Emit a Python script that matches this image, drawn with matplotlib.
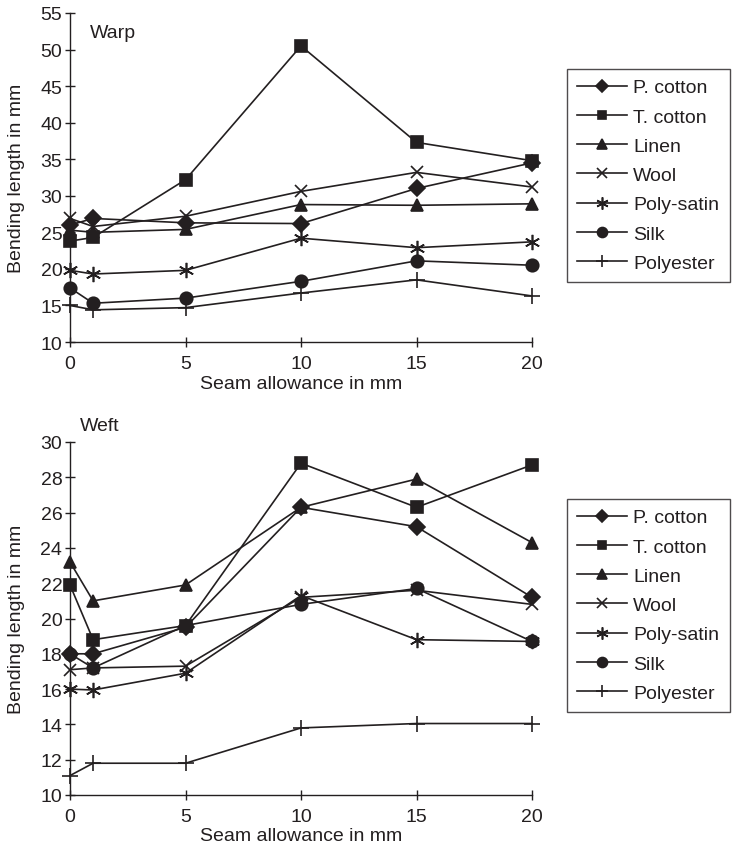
import matplotlib
matplotlib.use("Agg")
import matplotlib.pyplot as plt

plt.rcParams['font.family'] = ['Liberation Sans', 'DejaVu Sans']

# Werte
seam = [0, 1, 5, 10, 15, 20]
labels = ["P. cotton", "T. cotton", "Linen", "Wool", "Poly-satin", "Silk", "Polyester"]

warp_p_cotton = [26.0, 26.9, 26.3, 26.2, 31.0, 34.5]
warp_t_cotton = [23.8, 24.3, 32.2, 50.5, 37.3, 34.8]
warp_linen = [25.3, 25.0, 25.4, 28.8, 28.7, 28.9]
warp_wool = [26.9, 25.8, 27.2, 30.6, 33.2, 31.2]
warp_poly_satin = [19.8, 19.3, 19.8, 24.2, 22.9, 23.7]
warp_silk = [17.4, 15.3, 16.0, 18.3, 21.1, 20.5]
warp_polyester = [15.0, 14.4, 14.7, 16.7, 18.5, 16.3]

weft_p_cotton = [18.0, 18.0, 19.5, 26.3, 25.2, 21.2]
weft_t_cotton = [21.9, 18.8, 19.6, 28.8, 26.3, 28.7]
weft_linen = [23.2, 21.0, 21.9, 26.3, 27.9, 24.3]
weft_wool = [17.1, 17.2, 17.3, 21.2, 21.6, 20.8]
weft_poly_satin = [16.0, 15.95, 16.9, 21.3, 18.8, 18.7]
weft_silk = [18.0, 17.2, 19.6, 20.8, 21.7, 18.7]
weft_polyester = [11.1, 11.8, 11.8, 13.8, 14.05, 14.05]

warp = [warp_p_cotton, warp_t_cotton, warp_linen, warp_wool,
        warp_poly_satin, warp_silk, warp_polyester]
weft = [weft_p_cotton, weft_t_cotton, weft_linen, weft_wool,
        weft_poly_satin, weft_silk, weft_polyester]

ink = '#231f20'
FS = 14
# marker, size, filled
styles = [('D', 8, True), ('s', 8, True), ('^', 9, True), ('x', 9, False),
          ((6, 2, 0), 11, False), ('o', 9, True), ('+', 11, False)]

fig = plt.figure(figsize=(7.32, 8.53), dpi=100)
W, H = 732, 853
ax1 = fig.add_axes([70 / W, 1 - 343 / H, 462 / W, 329 / H])
ax2 = fig.add_axes([70 / W, 1 - 796 / H, 462 / W, 353 / H])


def draw(ax, data, ylim, yticks):
    handles = []
    for vals, (m, ms, filled) in zip(data, styles):
        h, = ax.plot(seam, vals, color=ink, lw=1.2, marker=m, ms=ms,
                     mfc=ink if filled else 'none', mec=ink, mew=1.2,
                     clip_on=False)
        handles.append(h)
    ax.set_xlim(0, 20)
    ax.set_ylim(*ylim)
    ax.set_xticks([0, 5, 10, 15, 20])
    ax.set_yticks(yticks)
    for s in ['top', 'right']:
        ax.spines[s].set_visible(False)
    for s in ['left', 'bottom']:
        ax.spines[s].set_color(ink)
        ax.spines[s].set_linewidth(1.0)
    ax.tick_params(direction='inout', length=7, width=1.0, color=ink,
                   labelsize=FS, labelcolor=ink)
    ax.tick_params(axis='x', pad=6)
    ax.tick_params(axis='y', pad=2)
    ax.set_xlabel("Seam allowance in mm", fontsize=FS, color=ink)
    ax.set_ylabel("Bending length in mm", fontsize=FS, color=ink)
    ax.yaxis.set_label_coords(-0.098, 0.5)
    return handles


h1 = draw(ax1, warp, (10, 55), range(10, 56, 5))
h2 = draw(ax2, weft, (10, 30), range(10, 31, 2))
ax1.xaxis.set_label_coords(0.5, -0.10)
ax2.xaxis.set_label_coords(0.5, -0.091)

fig.text(90 / W, 1 - 33 / H, "Warp", fontsize=FS, color=ink,
         va='center', ha='left')
fig.text(80 / W, 1 - 427 / H, "Weft", fontsize=FS, color=ink,
         va='center', ha='left')

for handles, top in [(h1, 70), (h2, 500)]:
    leg = fig.legend(handles, labels, loc='upper left',
                     bbox_to_anchor=(567 / W, 1 - top / H - 0.1, 163 / W, 0.1),
                     mode='expand', fontsize=FS, frameon=True, fancybox=False,
                     edgecolor=ink, handlelength=2.6, handletextpad=0.3,
                     labelspacing=0.6, borderpad=0.5, markerscale=0.8,
                     borderaxespad=0)
    leg.get_frame().set_linewidth(1.0)
    for t in leg.get_texts():
        t.set_color(ink)

fig.savefig("out.png", dpi=100)
